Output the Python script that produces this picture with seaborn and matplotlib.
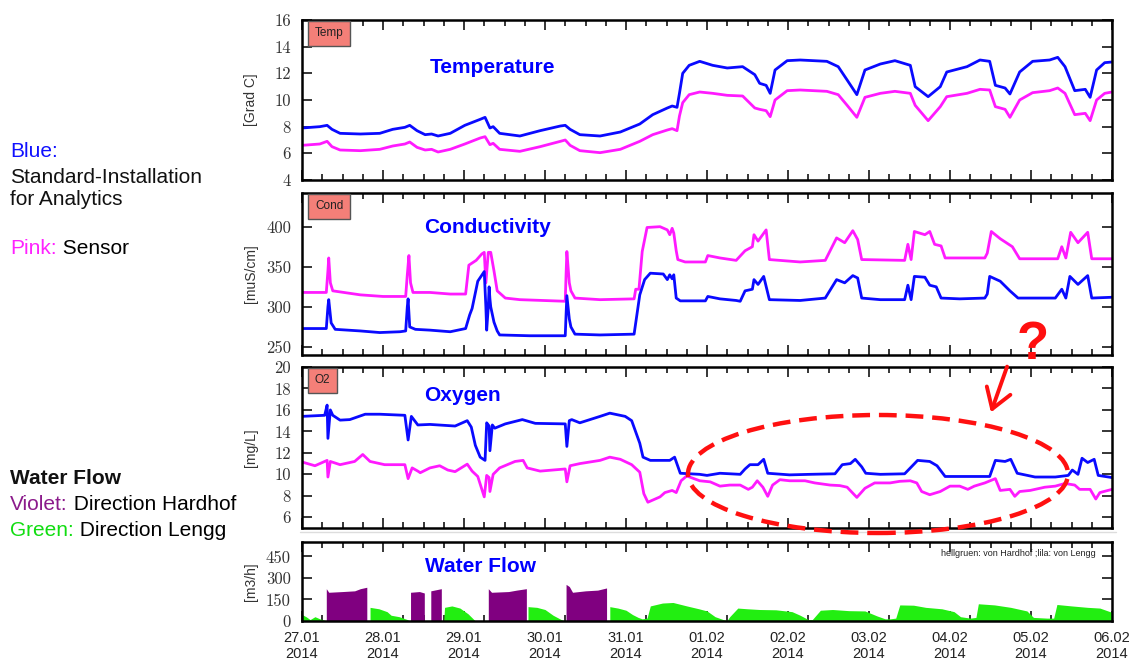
"""Sensor comparison chart: temperature, conductivity, oxygen and water flow."""
import matplotlib
matplotlib.use('Agg')
import matplotlib.pyplot as plt
import seaborn as sns
from matplotlib.patches import Ellipse, FancyArrowPatch
from matplotlib.lines import Line2D
from matplotlib.ticker import MultipleLocator

# ---- data (time in days since 27.01.2014 00:00) ----
day_labels = ['27.01', '28.01', '29.01', '30.01', '31.01', '01.02',
              '02.02', '03.02', '04.02', '05.02', '06.02']
year_label = '2014'

temp_t = [0.0, 0.22, 0.31, 0.37, 0.47, 0.72, 0.96, 1.12, 1.27, 1.33, 1.42, 1.52, 1.60, 1.68, 1.83,
          2.01, 2.20, 2.26, 2.32, 2.36, 2.44, 2.69, 2.94, 3.19, 3.25, 3.31, 3.43, 3.68, 3.93, 4.17,
          4.33, 4.51, 4.57, 4.63, 4.66, 4.70, 4.78, 4.91, 5.07, 5.25, 5.44, 5.59, 5.65, 5.73, 5.78,
          5.84, 5.99, 6.15, 6.48, 6.62, 6.73, 6.85, 6.95, 7.14, 7.32, 7.51, 7.57, 7.73, 7.88, 7.96,
          8.21, 8.37, 8.49, 8.56, 8.68, 8.74, 8.86, 9.02, 9.23, 9.33, 9.42, 9.54, 9.67, 9.73, 9.81,
          9.91, 10.0]
temp_standard = [7.9, 8.0, 8.1, 7.8, 7.5, 7.45, 7.5, 7.8, 7.95, 8.1, 7.7, 7.4, 7.45, 7.3, 7.5,
                 8.1, 8.55, 8.7, 7.9, 8.0, 7.5, 7.3, 7.7, 8.05, 8.1, 7.8, 7.4, 7.3, 7.6, 8.2,
                 8.9, 9.4, 9.55, 9.45, 10.5, 12.0, 12.6, 12.9, 12.6, 12.4, 12.5, 11.9, 11.25, 11.1, 10.5,
                 12.25, 12.95, 13.0, 12.9, 12.5, 11.5, 10.4, 12.25, 12.7, 12.95, 12.6, 11.0, 10.25, 11.0, 12.1,
                 12.5, 13.0, 12.9, 11.1, 10.9, 10.45, 12.1, 12.9, 13.0, 13.2, 12.5, 10.7, 10.8, 10.2, 12.25,
                 12.8, 12.85]
temp_sensor = [6.6, 6.7, 6.9, 6.5, 6.25, 6.2, 6.3, 6.55, 6.7, 6.85, 6.45, 6.25, 6.3, 6.1, 6.3,
               6.7, 7.15, 7.25, 6.65, 6.75, 6.3, 6.15, 6.5, 6.9, 7.0, 6.6, 6.2, 6.05, 6.3, 6.9,
               7.4, 7.75, 7.85, 7.7, 8.8, 9.8, 10.4, 10.6, 10.5, 10.35, 10.3, 9.4, 9.3, 9.2, 8.75,
               10.0, 10.7, 10.75, 10.65, 10.4, 9.6, 8.7, 10.2, 10.5, 10.65, 10.5, 9.6, 8.45, 9.5, 10.25,
               10.5, 10.8, 10.75, 9.5, 9.3, 8.7, 10.0, 10.55, 10.7, 10.9, 10.5, 8.9, 9.0, 8.45, 10.0,
               10.5, 10.6]

cond_std_t = [0.0, 0.30, 0.32, 0.33, 0.36, 0.41, 0.72, 0.96, 1.21, 1.28, 1.30, 1.31, 1.33, 1.40,
              1.58, 1.83, 2.02, 2.07, 2.10, 2.17, 2.25, 2.27, 2.28, 2.30, 2.31, 2.32, 2.33, 2.37,
              2.41, 2.44, 2.81, 3.25, 3.26, 3.27, 3.30, 3.32, 3.37, 3.68, 4.10, 4.14, 4.17, 4.23,
              4.30, 4.46, 4.51, 4.54, 4.57, 4.59, 4.62, 4.67, 4.98, 5.01, 5.16, 5.36, 5.41, 5.47,
              5.56, 5.58, 5.63, 5.70, 5.77, 6.15, 6.46, 6.60, 6.70, 6.80, 6.86, 6.91, 7.14, 7.44,
              7.48, 7.52, 7.56, 7.69, 7.75, 7.83, 7.89, 8.12, 8.43, 8.46, 8.49, 8.62, 8.74, 8.84,
              9.30, 9.38, 9.43, 9.48, 9.58, 9.70, 9.75, 10.0]
cond_standard = [273, 273, 300, 309, 280, 272, 270, 268, 269, 270, 300, 310, 275, 272,
                 271, 269, 273, 290, 298, 332, 344, 300, 271, 300, 325, 310, 300, 281,
                 270, 265, 264, 264, 290, 314, 285, 275, 266, 265, 266, 294, 315, 334,
                 342, 341, 334, 340, 335, 340, 311, 307.5, 307.5, 313, 310, 308, 307, 320,
                 322, 334, 328, 338, 309, 308, 311, 334, 330, 339, 336, 311, 309, 309,
                 327, 309, 338, 337, 327, 325, 311, 310, 311, 316, 338, 332, 320, 311,
                 311, 322, 311, 338, 328, 339, 311, 312]

cond_sen_t = [0.0, 0.30, 0.32, 0.33, 0.35, 0.38, 0.72, 1.00, 1.28, 1.30, 1.32, 1.34, 1.37, 1.58,
              1.83, 2.02, 2.06, 2.15, 2.22, 2.25, 2.27, 2.30, 2.33, 2.37, 2.41, 2.51, 2.69, 3.25,
              3.26, 3.27, 3.30, 3.32, 3.37, 3.68, 4.10, 4.12, 4.16, 4.20, 4.26, 4.42, 4.51, 4.54,
              4.57, 4.59, 4.62, 4.64, 4.73, 4.98, 5.01, 5.16, 5.36, 5.47, 5.56, 5.58, 5.63, 5.73,
              5.77, 6.15, 6.46, 6.60, 6.70, 6.80, 6.86, 6.91, 7.44, 7.48, 7.52, 7.56, 7.69, 7.75,
              7.81, 7.89, 7.94, 8.43, 8.46, 8.51, 8.62, 8.77, 8.86, 9.33, 9.38, 9.43, 9.49, 9.58,
              9.70, 9.75, 10.0]
cond_sensor = [318, 318, 345, 361, 330, 320, 315, 313, 313, 340, 364, 330, 318, 318,
               316, 316, 352, 358, 366, 368, 330, 368, 368, 345, 320, 311, 309, 307,
               340, 369, 330, 320, 311, 309, 310, 322, 322, 369, 399, 400, 396, 390,
               398, 392, 370, 359, 356, 356, 364, 361, 358, 370, 375, 390, 382, 396,
               359, 356, 358, 386, 380, 395, 384, 359, 358, 378, 359, 394, 390, 394,
               378, 376, 361, 361, 367, 394, 385, 375, 360, 360, 375, 361, 393, 380,
               393, 360, 360]

o2_std_t = [0.0, 0.28, 0.31, 0.32, 0.35, 0.38, 0.47, 0.59, 0.78, 0.96, 1.27, 1.31, 1.35, 1.43,
            1.58, 1.89, 2.04, 2.09, 2.14, 2.20, 2.26, 2.28, 2.31, 2.32, 2.35, 2.38, 2.51, 2.72,
            2.88, 3.25, 3.27, 3.30, 3.33, 3.43, 3.68, 3.80, 3.99, 4.07, 4.17, 4.21, 4.30, 4.54,
            4.60, 4.67, 4.91, 5.00, 5.16, 5.41, 5.47, 5.53, 5.63, 5.70, 5.75, 6.02, 6.27, 6.58,
            6.67, 6.77, 6.83, 6.91, 6.96, 7.14, 7.44, 7.53, 7.60, 7.75, 7.84, 7.94, 8.49, 8.56,
            8.68, 8.75, 8.83, 9.05, 9.30, 9.46, 9.51, 9.58, 9.63, 9.70, 9.78, 9.83, 10.0]
o2_standard = [15.4, 15.5, 16.45, 13.35, 16.0, 15.5, 15.05, 15.1, 15.6, 15.6, 15.5, 13.2, 15.4, 14.6,
               14.65, 14.5, 15.0, 14.4, 12.7, 11.6, 11.3, 14.8, 14.5, 12.2, 14.6, 14.3, 14.7, 15.1,
               14.75, 14.7, 12.6, 15.0, 15.1, 14.8, 15.4, 15.7, 15.4, 15.0, 12.9, 11.6, 11.3, 11.3,
               11.6, 10.1, 10.0, 9.9, 10.1, 10.0, 10.5, 10.9, 10.9, 11.4, 10.1, 9.95, 10.0, 10.05,
               10.9, 11.0, 11.4, 10.7, 10.1, 10.0, 10.05, 10.75, 11.3, 11.2, 10.8, 9.8, 9.8, 11.3,
               11.2, 11.4, 10.1, 9.75, 9.75, 9.9, 10.4, 10.0, 11.5, 11.1, 11.4, 9.9, 9.7]

o2_sen_t = [0.0, 0.16, 0.31, 0.32, 0.35, 0.47, 0.65, 0.75, 0.84, 1.02, 1.27, 1.31, 1.36, 1.43,
            1.46, 1.58, 1.70, 1.80, 1.89, 2.04, 2.10, 2.17, 2.25, 2.28, 2.31, 2.32, 2.36, 2.44,
            2.63, 2.73, 2.78, 2.94, 3.25, 3.27, 3.31, 3.43, 3.68, 3.80, 3.93, 4.07, 4.17, 4.22,
            4.27, 4.36, 4.42, 4.48, 4.57, 4.62, 4.68, 4.75, 4.91, 5.04, 5.16, 5.28, 5.41, 5.51,
            5.56, 5.62, 5.69, 5.75, 5.81, 5.90, 6.02, 6.21, 6.33, 6.52, 6.64, 6.73, 6.85, 6.95,
            7.07, 7.26, 7.38, 7.51, 7.59, 7.65, 7.75, 7.88, 8.00, 8.12, 8.22, 8.30, 8.43, 8.56,
            8.62, 8.74, 8.80, 8.86, 8.99, 9.17, 9.30, 9.42, 9.54, 9.60, 9.73, 9.80, 9.85, 10.0]
o2_sensor = [11.15, 10.8, 11.3, 9.75, 11.2, 10.9, 11.2, 11.85, 11.2, 10.9, 10.9, 9.6, 10.6, 10.3,
             10.15, 10.6, 10.8, 10.4, 10.25, 10.95, 10.3, 9.8, 7.9, 9.9, 9.7, 8.4, 10.0, 10.6,
             11.2, 11.3, 10.6, 10.3, 10.5, 9.3, 10.8, 11.0, 11.3, 11.6, 11.4, 10.9, 10.2, 8.2,
             7.4, 7.7, 7.9, 8.3, 8.5, 8.3, 9.4, 9.85, 9.4, 9.3, 8.9, 9.0, 9.0, 8.6,
             8.8, 9.4, 8.8, 7.95, 9.0, 9.5, 9.4, 9.4, 9.2, 9.0, 8.95, 8.8, 7.85, 8.7,
             9.2, 9.2, 9.35, 9.4, 9.2, 8.4, 8.1, 8.4, 8.9, 8.9, 8.6, 8.9, 9.2, 9.6,
             8.5, 8.6, 7.95, 8.4, 8.5, 8.8, 8.9, 9.15, 9.0, 8.6, 8.6, 7.7, 8.3, 8.6]

flow_hardhof_t = [0.30, 0.30, 0.33, 0.50, 0.65, 0.72, 0.80, 0.80,
                  1.34, 1.34, 1.45, 1.51, 1.51,
                  1.59, 1.59, 1.72, 1.72,
                  2.30, 2.30, 2.34, 2.55, 2.65, 2.77, 2.77,
                  3.26, 3.26, 3.30, 3.34, 3.50, 3.65, 3.76, 3.76]
flow_hardhof = [0, 225, 200, 205, 210, 225, 235, 0,
                0, 200, 205, 195, 0,
                0, 210, 225, 0,
                0, 225, 200, 205, 215, 225, 0,
                0, 255, 240, 200, 210, 215, 230, 0]

flow_lengg_t = [0.0, 0.05, 0.10, 0.16, 0.22, 0.28, 0.30,
                0.84, 0.84, 0.95, 1.05, 1.10, 1.20, 1.30, 1.33,
                1.75, 1.76, 1.85, 1.95, 2.05, 2.14,
                2.79, 2.79, 2.90, 3.00, 3.10, 3.20, 3.25,
                3.80, 3.80, 3.90, 4.00, 4.08, 4.15, 4.20, 4.26, 4.30, 4.45, 4.58, 4.75, 4.90,
                5.00, 5.10, 5.20, 5.25, 5.28, 5.38, 5.50, 5.65, 5.85, 6.05, 6.15, 6.25,
                6.30, 6.40, 6.55, 6.75, 6.95, 7.10, 7.20, 7.26, 7.33, 7.38, 7.55, 7.70,
                7.90, 8.05, 8.13, 8.25, 8.32, 8.35, 8.55, 8.75, 8.95, 9.03, 9.20, 9.28,
                9.32, 9.50, 9.70, 9.85, 9.95, 10.0]
flow_lengg = [45, 30, 10, 30, 15, 5, 0,
              0, 95, 85, 65, 40, 30, 10, 0,
              0, 95, 105, 90, 50, 0,
              0, 100, 95, 80, 40, 10, 0,
              0, 100, 90, 75, 45, 25, 15, 20, 105, 125, 129, 105, 85,
              70, 30, 10, 5, 30, 90, 85, 80, 78, 65, 40, 10,
              10, 75, 80, 72, 70, 35, 15, 15, 20, 112, 110, 95,
              85, 65, 30, 20, 25, 120, 112, 95, 70, 25, 20, 20,
              115, 105, 95, 90, 70, 60]

# ---- style ----
sns.set_theme(style='ticks')
plt.rcParams['font.family'] = ['Liberation Sans', 'DejaVu Sans']

BLUE = '#0a0aff'
PINK = '#ff1aff'
VIOLET = '#800080'
GREEN = '#22ee11'
TITLE_BLUE = '#0000ff'

W, H = 1131, 662


def fx(px):
    return px / W


def fy(py):
    return 1 - py / H


fig = plt.figure(figsize=(W / 100, H / 100), dpi=100)
left, right = 302, 1112


def make_axes(top, bottom):
    return fig.add_axes([fx(left), fy(bottom), (right - left) / W, (bottom - top) / H])


ax_t = make_axes(20, 180)
ax_c = make_axes(193, 355)
ax_o = make_axes(367, 528)
ax_w = make_axes(542, 621)


def style_axis(ax, ylim, yticks, ylabel, tag, title, title_xy):
    ax.set_xlim(0, 10)
    ax.set_ylim(*ylim)
    ax.set_yticks(yticks, labels=[str(v) for v in yticks])
    ax.xaxis.set_major_locator(MultipleLocator(1))
    ax.xaxis.set_minor_locator(MultipleLocator(0.25))
    ax.tick_params(which='both', direction='in', top=True, right=True,
                   color='black', width=1.1)
    ax.tick_params(which='major', length=7)
    ax.tick_params(which='minor', length=4)
    ax.tick_params(axis='y', pad=8)
    ax.tick_params(axis='x', labelbottom=False)
    for lbl in ax.get_yticklabels():
        lbl.set_fontfamily('cmr10')
        lbl.set_fontsize(12)
        lbl.set_color('#333333')
    for sp in ax.spines.values():
        sp.set_visible(True)
        sp.set_linewidth(1.8)
        sp.set_color('black')
    ax.set_xlabel('')
    ax.set_ylabel(ylabel, fontsize=10, color='#333333')
    ax.yaxis.set_label_coords(-0.054, 0.5)
    if tag:
        ax.text(0.016, 0.955, tag, transform=ax.transAxes, fontsize=8.5, color='#222222',
                ha='left', va='top',
                bbox=dict(boxstyle='square,pad=0.55', facecolor='#f47f78',
                          edgecolor='#555555', linewidth=1.0))
    ax.text(title_xy[0], title_xy[1], title, transform=ax.transAxes, fontsize=15,
            fontweight='bold', color=TITLE_BLUE, ha='center', va='center')


# temperature
sns.lineplot(x=temp_t, y=temp_sensor, ax=ax_t, color=PINK, lw=2.0, estimator=None, sort=False)
sns.lineplot(x=temp_t, y=temp_standard, ax=ax_t, color=BLUE, lw=2.0, estimator=None, sort=False)
style_axis(ax_t, (4, 16), [4, 6, 8, 10, 12, 14, 16], '[Grad C]', 'Temp',
           'Temperature', (0.235, 0.706))

# conductivity
sns.lineplot(x=cond_sen_t, y=cond_sensor, ax=ax_c, color=PINK, lw=2.0, estimator=None, sort=False)
sns.lineplot(x=cond_std_t, y=cond_standard, ax=ax_c, color=BLUE, lw=2.0, estimator=None, sort=False)
style_axis(ax_c, (240, 442), [250, 300, 350, 400], '[muS/cm]', 'Cond',
           'Conductivity', (0.229, 0.79))

# oxygen
sns.lineplot(x=o2_sen_t, y=o2_sensor, ax=ax_o, color=PINK, lw=2.0, estimator=None, sort=False)
sns.lineplot(x=o2_std_t, y=o2_standard, ax=ax_o, color=BLUE, lw=2.0, estimator=None, sort=False)
style_axis(ax_o, (5, 20), [6, 8, 10, 12, 14, 16, 18, 20], '[mg/L]', 'O2',
           'Oxygen', (0.198, 0.82))

# water flow
ax_w.fill_between(flow_lengg_t, 0, flow_lengg, color=GREEN, lw=0)
ax_w.fill_between(flow_hardhof_t, 0, flow_hardhof, color=VIOLET, lw=0)
style_axis(ax_w, (0, 550), [0, 150, 300, 450], '[m3/h]', None,
           'Water Flow', (0.22, 0.684))
ax_w.text(0.98, 0.86, 'hellgruen: von Hardhof ;lila: von Lengg', transform=ax_w.transAxes,
          fontsize=6.5, color='#222222', ha='right', va='center')
ax_w.set_xticks(range(len(day_labels)),
                labels=[f'{d}\n{year_label}' for d in day_labels])
ax_w.tick_params(axis='x', labelbottom=True, pad=7, labelsize=10.5, labelcolor='#222222')
for lbl in ax_w.get_xticklabels():
    lbl.set_linespacing(1.25)

# separator line above the flow panel
fig.add_artist(Line2D([fx(300), fx(1116)], [fy(532), fy(532)], color='#dddddd', lw=1))

# ---- left side notes ----
def two_color(x, y, first, first_color, second, size=15, weight='normal'):
    t1 = fig.text(fx(x), fy(y), first, color=first_color, fontsize=size, ha='left',
                  va='center', fontweight=weight)
    if second:
        ax_t.annotate(second, xy=(1, 0), xycoords=t1, ha='left', va='bottom',
                      fontsize=size, color='black', annotation_clip=False)


two_color(10, 151, 'Blue:', '#1010ff', None)
two_color(10, 177, 'Standard-Installation', '#111111', None)
two_color(10, 200, 'for Analytics', '#111111', None)
two_color(10, 248, 'Pink:', '#ff22ff', ' Sensor')
two_color(10, 479, 'Water Flow', '#111111', None, weight='bold')
two_color(10, 505, 'Violet:', '#8b1a8b', ' Direction Hardhof')
two_color(10, 530, 'Green:', '#11dd11', ' Direction Lengg')

# ---- red annotation ----
fig.add_artist(Ellipse((fx(878), fy(474)), 380 / W, 118 / H, fill=False, edgecolor='#ff1010',
                       lw=3.2, linestyle=(0, (4, 2)), zorder=20))
fig.add_artist(FancyArrowPatch((fx(1008), fy(364)), (fx(990), fy(415)),
                               arrowstyle='->,head_length=0.7,head_width=0.45',
                               mutation_scale=20, color='#ff1010', lw=2.8, zorder=20))
fig.text(fx(1033), fy(345), '?', color='#ff1010', fontsize=38, fontweight='bold',
         ha='center', va='center', zorder=20)

fig.savefig('out.png', dpi=100)
